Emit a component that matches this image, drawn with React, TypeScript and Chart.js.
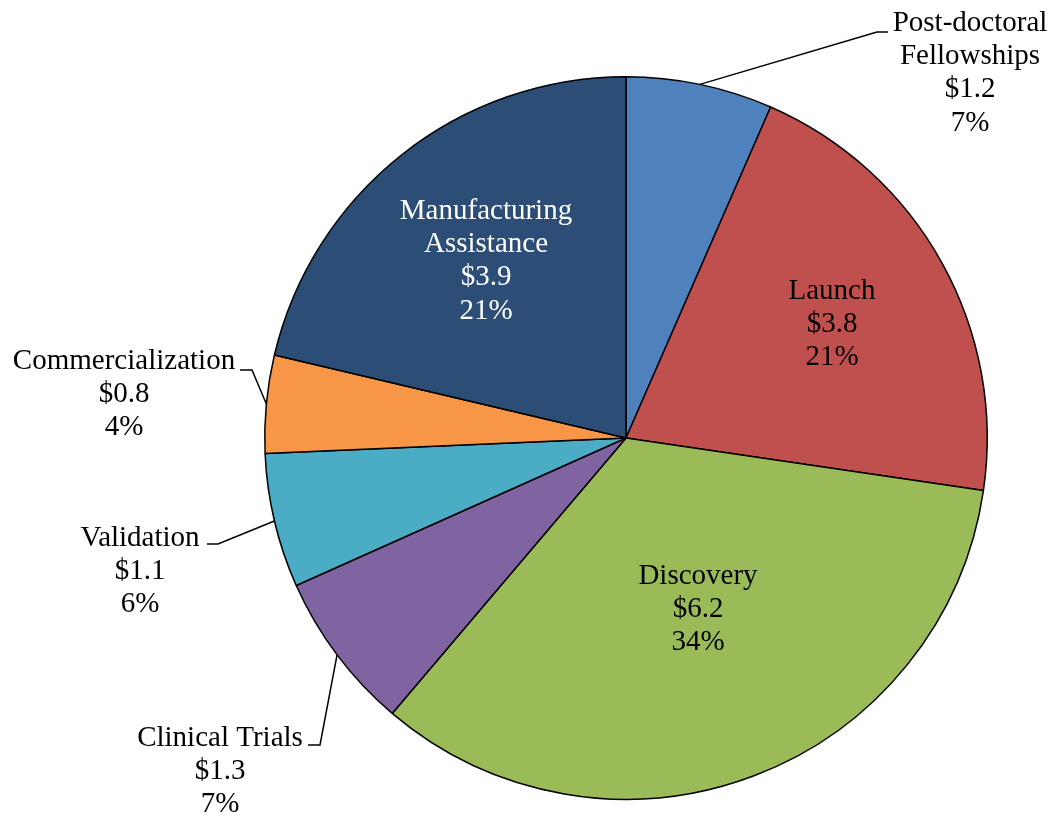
import React, { useEffect, useRef } from "react";
import { Chart, registerables } from "chart.js";

Chart.register(...registerables);

const categories = [
  "Post-doctoral Fellowships",
  "Launch",
  "Discovery",
  "Clinical Trials",
  "Validation",
  "Commercialization",
  "Manufacturing Assistance",
];
const values = [1.2, 3.8, 6.2, 1.3, 1.1, 0.8, 3.9];
const valueLabels = ["$1.2", "$3.8", "$6.2", "$1.3", "$1.1", "$0.8", "$3.9"];
const percentLabels = ["7%", "21%", "34%", "7%", "6%", "4%", "21%"];
const nameLines = [
  ["Post-doctoral", "Fellowships"],
  ["Launch"],
  ["Discovery"],
  ["Clinical Trials"],
  ["Validation"],
  ["Commercialization"],
  ["Manufacturing", "Assistance"],
];
const colors = ["#4F81BD", "#C0504D", "#9BBB59", "#8064A2", "#4BACC6", "#F79646", "#2C4D75"];

// label layout (style): text center relative to pie center, first line center
const labelLayout = [
  { x: 344, y: -415, color: "#000", leader: [[251, -406], [262, -406]] },
  { x: 206, y: -147, color: "#000", leader: null },
  { x: 72, y: 138, color: "#000", leader: null },
  { x: -406, y: 300, color: "#000", leader: [[-306, 307], [-318, 307]] },
  { x: -486, y: 100, color: "#000", leader: [[-408, 106], [-419, 106]] },
  { x: -502, y: -77, color: "#000", leader: [[-374, -68], [-386, -68]] },
  { x: -140, y: -227, color: "#fff", leader: null },
];

const FONT = '29px "Liberation Serif", "Times New Roman", serif';
const LINE_H = 33.3;

const labelPlugin = {
  id: "pieLabels",
  afterDatasetsDraw(chart: any) {
    const ctx = chart.ctx;
    const meta = chart.getDatasetMeta(0);
    ctx.save();
    ctx.font = FONT;
    ctx.textAlign = "center";
    ctx.textBaseline = "middle";
    meta.data.forEach((arc: any, i: number) => {
      const { x: cx, y: cy, startAngle, endAngle, outerRadius } = arc.getProps(
        ["x", "y", "startAngle", "endAngle", "outerRadius"],
        true
      );
      const lay = labelLayout[i];
      if (lay.leader) {
        const mid = (startAngle + endAngle) / 2;
        ctx.beginPath();
        ctx.strokeStyle = "#000";
        ctx.lineWidth = 1.5;
        ctx.moveTo(cx + Math.cos(mid) * outerRadius, cy + Math.sin(mid) * outerRadius);
        lay.leader.forEach((p) => ctx.lineTo(cx + p[0], cy + p[1]));
        ctx.stroke();
      }
      const lines = [...nameLines[i], valueLabels[i], percentLabels[i]];
      ctx.fillStyle = lay.color;
      lines.forEach((t, k) => {
        ctx.fillText(t, cx + lay.x, cy + lay.y + k * LINE_H);
      });
    });
    ctx.restore();
  },
};

export default function App() {
  const ref = useRef<HTMLCanvasElement | null>(null);
  useEffect(() => {
    document.body.style.margin = "0";
    const chart = new Chart(ref.current as HTMLCanvasElement, {
      type: "pie",
      data: {
        labels: categories,
        datasets: [
          {
            data: values,
            backgroundColor: colors,
            borderColor: "#000",
            borderWidth: 1.5,
            hoverOffset: 0,
          },
        ],
      },
      options: {
        responsive: false,
        animation: false,
        events: [],
        layout: { padding: { left: 264, top: 76, right: 63, bottom: 15 } },
        plugins: { legend: { display: false }, tooltip: { enabled: false } },
      },
      plugins: [labelPlugin],
    });
    return () => chart.destroy();
  }, []);
  return (
    <div style={{ position: "fixed", left: 0, top: 0, width: 1051, height: 815, background: "#fff" }}>
      <canvas ref={ref} width={1051} height={815} style={{ width: 1051, height: 815 }} />
    </div>
  );
}
